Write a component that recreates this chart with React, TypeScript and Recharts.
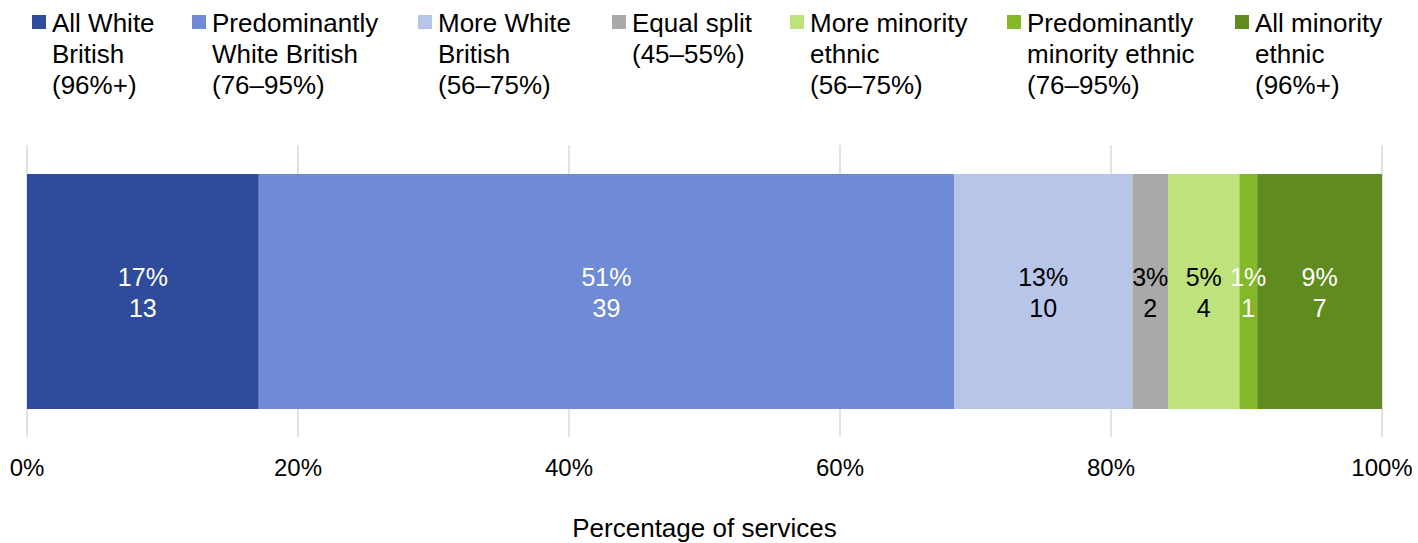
import { Bar, BarChart, CartesianGrid, Label, LabelList, XAxis, YAxis } from "recharts"

// Ethnic mix bands, with the line breaks used in the legend
const seriesNames = [
  "All White\nBritish\n(96%+)",
  "Predominantly\nWhite British\n(76–95%)",
  "More White\nBritish\n(56–75%)",
  "Equal split\n(45–55%)",
  "More minority\nethnic\n(56–75%)",
  "Predominantly\nminority ethnic\n(76–95%)",
  "All minority\nethnic\n(96%+)",
]
const serviceCounts = [13, 39, 10, 2, 4, 1, 7]
const seriesColors = ["#2F4B9B", "#6F8BD5", "#B7C5E9", "#A9A9A9", "#BEE37C", "#84B829", "#5F8B1F"]
const labelColors = ["#fff", "#fff", "#000", "#000", "#000", "#fff", "#fff"]
const tickValues = [0, 0.2, 0.4, 0.6, 0.8, 1]

// left edge of each legend entry's swatch
const legendLeft = [32, 192, 418, 612, 790, 1007, 1235]

const total = serviceCounts.reduce((a, b) => a + b, 0)
const chartData = [
  serviceCounts.reduce<Record<string, number | string>>(
    (row, count, i) => ({ ...row, [`s${i}`]: count }),
    { name: "services" }
  ),
]

const font = "'Liberation Sans', Arial, sans-serif"

const segmentLabel = (index: number) => (props: any) => {
  const { x, y, width, height } = props
  const cx = Number(x) + Number(width) / 2
  const cy = Number(y) + Number(height) / 2
  const count = serviceCounts[index]
  const pct = Math.round((count / total) * 100)
  return (
    <text textAnchor='middle' fill={labelColors[index]} fontSize={25} fontFamily={font}>
      <tspan x={cx} y={cy - 5.5}>{`${pct}%`}</tspan>
      <tspan x={cx} y={cy + 25.5}>{count}</tspan>
    </text>
  )
}

const LegendRow = () => (
  <div style={{ fontFamily: font, fontSize: 26, lineHeight: "31px", color: "#000" }}>
    {seriesNames.map((name, i) => (
      <div
        key={name}
        style={{
          position: "absolute",
          top: 7.5,
          left: legendLeft[i],
          display: "flex",
          alignItems: "flex-start",
        }}
      >
        <span
          style={{
            width: 14,
            height: 14,
            marginTop: 7.5,
            marginRight: 6,
            background: seriesColors[i],
            flexShrink: 0,
          }}
        />
        <span style={{ whiteSpace: "pre" }}>{name}</span>
      </div>
    ))}
  </div>
)

const App = () => {
  return (
    <div style={{ position: "absolute", left: 0, top: 0, width: 1418, height: 543, background: "#fff" }}>
      <BarChart
        width={1418}
        height={543}
        data={chartData}
        layout='vertical'
        stackOffset='expand'
        margin={{ top: 145, right: 36, left: 27, bottom: 0 }}
      >
        <CartesianGrid horizontal={false} stroke='#D9D9D9' strokeWidth={1.5} />
        <XAxis
          type='number'
          domain={[0, 1]}
          ticks={tickValues}
          tickFormatter={(v) => `${Math.round(v * 100)}%`}
          height={106}
          axisLine={false}
          tickLine={false}
          tickMargin={16}
          tick={{ fontSize: 24, fill: "#000", fontFamily: font }}
        >
          <Label
            value='Percentage of services'
            position='insideBottom'
            offset={6}
            style={{ fontSize: 26, fill: "#000", fontFamily: font }}
          />
        </XAxis>
        <YAxis type='category' dataKey='name' hide width={0} />
        {serviceCounts.map((_, i) => (
          <Bar
            key={i}
            dataKey={`s${i}`}
            stackId='mix'
            fill={seriesColors[i]}
            barSize={235}
            isAnimationActive={false}
          >
            <LabelList dataKey={`s${i}`} content={segmentLabel(i)} />
          </Bar>
        ))}
      </BarChart>
      <LegendRow />
    </div>
  )
}

export default App
